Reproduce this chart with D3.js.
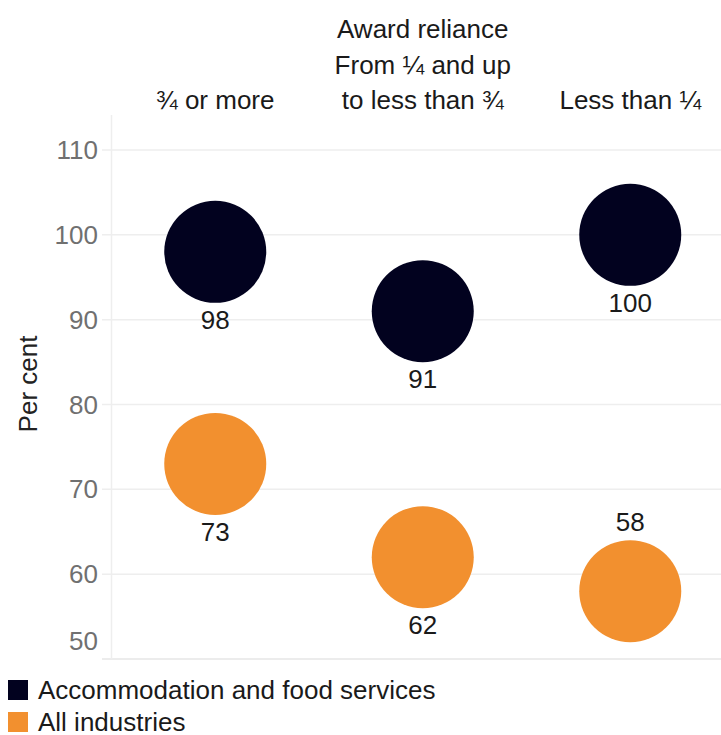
<!DOCTYPE html>
<html>
<head>
<meta charset="utf-8">
<script src="https://cdn.jsdelivr.net/npm/d3@7"></script>
<style>
  html, body { margin: 0; padding: 0; background: #fff; }
  svg { display: block; }
  svg text { font-family: Arial, "Liberation Sans", sans-serif; }
</style>
</head>
<body>
<svg id="chart" width="721" height="735"></svg>
<script>
const categories = ["¾ or more", "From ¼ and up|to less than ¾", "Less than ¼"];
const seriesNames = ["Accommodation and food services", "All industries"];
const accommodation = [98, 91, 100];
const allIndustries = [73, 62, 58];
const yTicks = [50, 60, 70, 80, 90, 100, 110];
const colors = ["#02021f", "#f2902f"];

const svg = d3.select("#chart");
const W = 721, H = 735;
const plot = { left: 111.5, right: 734, top: 150, bottom: 659 };
const FS = 26;

const x = d3.scaleBand().domain(categories).range([plot.left, plot.right]).padding(0);
const y = d3.scaleLinear().domain([50, 110]).range([plot.bottom, plot.top]);
const r = 51;

// gridlines
const grid = svg.append("g");
grid.selectAll("line.h").data(yTicks).enter().append("line")
  .attr("x1", 102).attr("x2", W)
  .attr("y1", d => y(d)).attr("y2", d => y(d))
  .attr("stroke", d => d === 50 ? "#e6e6e6" : "#eeeeee").attr("stroke-width", 1.5);
grid.append("line")
  .attr("x1", plot.left).attr("x2", plot.left)
  .attr("y1", 115).attr("y2", plot.bottom)
  .attr("stroke", "#eeeeee").attr("stroke-width", 1.5);

// y tick labels
svg.append("g").selectAll("text").data(yTicks).enter().append("text")
  .attr("x", 98)
  .attr("y", d => Math.min(y(d), 641))
  .attr("dy", "0.35em")
  .attr("text-anchor", "end")
  .attr("font-size", FS)
  .attr("fill", "#707070")
  .text(d => d);

// y title
svg.append("text")
  .attr("transform", `translate(37, 384) rotate(-90)`)
  .attr("text-anchor", "middle")
  .attr("font-size", FS)
  .attr("fill", "#222")
  .text("Per cent");

// header: axis title and category labels
const cx = d => x(d) + x.bandwidth() / 2;
svg.append("text")
  .attr("x", cx(categories[1])).attr("y", 38)
  .attr("text-anchor", "middle").attr("font-size", FS).attr("fill", "#1a1a1a")
  .text("Award reliance");
categories.forEach(c => {
  const lines = c.split("|");
  lines.forEach((ln, i) => {
    svg.append("text")
      .attr("x", cx(c))
      .attr("y", 109 - (lines.length - 1 - i) * 35.5)
      .attr("text-anchor", "middle").attr("font-size", FS).attr("fill", "#1a1a1a")
      .text(ln);
  });
});

// bubbles
const series = [accommodation, allIndustries];
series.forEach((vals, si) => {
  const g = svg.append("g");
  const pts = vals.map((v, i) => ({ cat: categories[i], v }));
  g.selectAll("circle").data(pts).enter().append("circle")
    .attr("cx", d => cx(d.cat))
    .attr("cy", d => y(d.v))
    .attr("r", r)
    .attr("fill", colors[si]);
  g.selectAll("text").data(pts).enter().append("text")
    .attr("x", d => cx(d.cat))
    .attr("y", d => {
      const below = y(d.v) + r + 26;
      return below > plot.bottom ? y(d.v) - r - 9 : below;
    })
    .attr("text-anchor", "middle")
    .attr("font-size", FS)
    .attr("fill", "#1a1a1a")
    .text(d => d.v);
});

// legend
const leg = svg.append("g");
seriesNames.forEach((n, i) => {
  leg.append("rect").attr("x", 8).attr("y", 680 + i * 32).attr("width", 20).attr("height", 20).attr("fill", colors[i]);
  leg.append("text").attr("x", 38).attr("y", 690 + i * 32).attr("dy", "0.35em")
    .attr("font-size", FS).attr("fill", "#1a1a1a").text(n);
});
</script>
</body>
</html>
